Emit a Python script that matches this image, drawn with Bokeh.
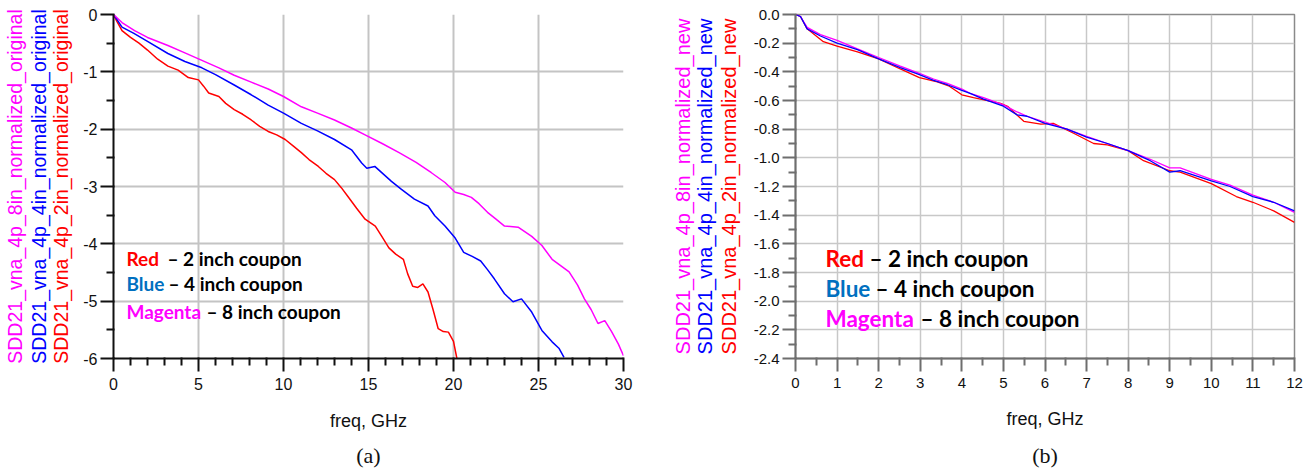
from bokeh.plotting import figure
from bokeh.models import Range1d, FixedTicker, PrintfTickFormatter, Label, LinearAxis
from bokeh.layouts import row
from bokeh.embed import file_html
from bokeh.resources import INLINE

# ---------------- data: panel (a) original ----------------
freq_a_red = [0, 0.2, 0.5, 1.0, 1.5, 2.0, 2.6, 3.2, 3.8, 4.4, 5.0, 5.3, 5.6, 5.9, 6.2, 6.6, 7.1,
              7.6, 8.1, 8.6, 9.1, 9.6, 10.1, 10.6, 11.05, 11.5, 12.05, 12.5, 13.0, 13.4, 13.8,
              14.3, 14.8, 15.4, 15.8, 16.2, 16.6, 17.05, 17.3, 17.6, 17.9, 18.2, 18.5, 18.8,
              19.1, 19.4, 19.7, 20.0, 20.2]
sdd21_a_red = [0, -0.12, -0.28, -0.40, -0.50, -0.62, -0.78, -0.90, -0.97, -1.10, -1.14, -1.25,
               -1.37, -1.40, -1.43, -1.55, -1.66, -1.74, -1.84, -1.95, -2.04, -2.10, -2.18, -2.30,
               -2.41, -2.53, -2.65, -2.77, -2.88, -3.02, -3.18, -3.38, -3.57, -3.69, -3.88, -4.07,
               -4.18, -4.27, -4.52, -4.74, -4.76, -4.70, -4.84, -5.15, -5.48, -5.53, -5.54, -5.70,
               -6.0]

freq_a_blue = [0, 0.5, 1.2, 2.0, 3.2, 4.2, 5.2, 6.0, 7.1, 8.1, 9.1, 10.0, 11.05, 12.0, 13.0, 14.0,
               14.6, 14.9, 15.37, 16.35, 16.94, 17.7, 18.5, 18.9, 19.5, 20.1, 20.6, 21.1, 21.6,
               22.0, 22.4, 23.0, 23.5, 24.0, 24.6, 25.2, 25.8, 26.2, 26.5]
sdd21_a_blue = [0, -0.22, -0.33, -0.47, -0.68, -0.82, -0.93, -1.05, -1.23, -1.40, -1.58, -1.72,
                -1.90, -2.03, -2.18, -2.36, -2.59, -2.68, -2.65, -2.91, -3.05, -3.22, -3.34,
                -3.51, -3.69, -3.90, -4.15, -4.22, -4.30, -4.45, -4.61, -4.87, -5.01, -4.96,
                -5.19, -5.51, -5.71, -5.82, -5.98]

freq_a_mag = [0, 0.5, 1.24, 2.0, 3.2, 4.2, 5.2, 6.2, 7.1, 8.1, 9.1, 10.0, 11.05, 12.0, 13.0, 14.0,
              14.8, 15.8, 16.8, 17.8, 18.7, 19.5, 20.1, 20.6, 21.05, 21.5, 22.0, 22.5, 23.0, 23.8,
              24.6, 25.2, 25.8, 26.3, 26.8, 27.3, 27.7, 28.1, 28.5, 28.9, 29.3, 29.7, 30.0]
sdd21_a_mag = [0, -0.14, -0.28, -0.40, -0.54, -0.67, -0.80, -0.93, -1.06, -1.18, -1.30, -1.43,
               -1.61, -1.72, -1.84, -1.98, -2.10, -2.25, -2.41, -2.58, -2.76, -2.93, -3.10,
               -3.14, -3.19, -3.30, -3.45, -3.57, -3.69, -3.71, -3.87, -4.03, -4.27, -4.38,
               -4.49, -4.72, -4.96, -5.15, -5.39, -5.34, -5.53, -5.75, -5.95]

# ---------------- data: panel (b) new ----------------
freq_b_red = [0, 0.12, 0.28, 0.67, 1.0, 1.49, 2.0, 2.52, 2.98, 3.41, 3.7, 4.0, 4.28, 4.93, 5.1,
              5.49, 5.9, 6.2, 6.7, 7.17, 7.5, 8.0, 8.37, 9.0, 9.25, 10.0, 10.6, 11.0, 11.5, 12.0]
sdd21_b_red = [0, -0.014, -0.10, -0.19, -0.22, -0.26, -0.31, -0.38, -0.44, -0.47, -0.50, -0.56,
               -0.58, -0.62, -0.64, -0.745, -0.765, -0.76, -0.83, -0.90, -0.91, -0.95, -1.02,
               -1.09, -1.10, -1.18, -1.27, -1.31, -1.37, -1.45]

freq_b_blue = [0, 0.12, 0.28, 0.6, 1.0, 1.49, 2.0, 2.52, 2.98, 3.32, 3.65, 4.0, 4.2, 4.52, 5.0,
               5.33, 5.57, 6.0, 6.53, 7.0, 7.5, 8.0, 8.53, 9.0, 9.25, 10.0, 10.45, 11.0, 11.5, 12.0]
sdd21_b_blue = [0, -0.014, -0.10, -0.15, -0.20, -0.245, -0.31, -0.37, -0.42, -0.46, -0.49, -0.53,
                -0.55, -0.59, -0.64, -0.70, -0.71, -0.76, -0.80, -0.855, -0.90, -0.95, -1.02,
                -1.10, -1.09, -1.16, -1.20, -1.27, -1.31, -1.37]

freq_b_mag = [0, 0.12, 0.28, 0.6, 1.0, 1.49, 2.0, 2.52, 2.98, 3.32, 3.65, 4.0, 4.2, 4.52, 5.0,
              5.33, 5.57, 6.0, 6.53, 7.0, 7.5, 8.0, 8.53, 9.0, 9.25, 10.0, 10.45, 11.0, 11.5, 12.0]
sdd21_b_mag = [0, -0.014, -0.09, -0.14, -0.18, -0.24, -0.30, -0.36, -0.41, -0.45, -0.48, -0.52,
               -0.55, -0.58, -0.63, -0.68, -0.71, -0.75, -0.80, -0.85, -0.90, -0.95, -1.01,
               -1.07, -1.07, -1.15, -1.19, -1.26, -1.31, -1.38]

# ---------------- ticks / labels ----------------
x_ticks_a = [0, 5, 10, 15, 20, 25, 30]
x_minor_a = [v for v in range(0, 31) if v % 5 != 0]
x_grid_a = [5, 10, 15, 20, 25]
y_ticks_a = [0, -1, -2, -3, -4, -5, -6]
y_minor_a = [-0.5, -1.5, -2.5, -3.5, -4.5, -5.5]
y_grid_a = [0, -1, -2, -3, -4, -5]

x_ticks_b = [0, 1, 2, 3, 4, 5, 6, 7, 8, 9, 10, 11, 12]
x_minor_b = [0.5, 1.5, 2.5, 3.5, 4.5, 5.5, 6.5, 7.5, 8.5, 9.5, 10.5, 11.5]
y_ticks_b = [0.0, -0.2, -0.4, -0.6, -0.8, -1.0, -1.2, -1.4, -1.6, -1.8, -2.0, -2.2, -2.4]
y_minor_b = [-0.1, -0.3, -0.5, -0.7, -0.9, -1.1, -1.3, -1.5, -1.7, -1.9, -2.1, -2.3]

names_a = ["SDD21_vna_4p_2in_normalized_original",
           "SDD21_vna_4p_4in_normalized_original",
           "SDD21_vna_4p_8in_normalized_original"]
names_b = ["SDD21_vna_4p_2in_normalized_new",
           "SDD21_vna_4p_4in_normalized_new",
           "SDD21_vna_4p_8in_normalized_new"]
legend_words = ["Red", "Blue", "Magenta"]
legend_rest = ["– 2 inch coupon", "– 4 inch coupon", "– 8 inch coupon"]

RED, BLUE, MAG = "#ff0000", "#0000ff", "#ff00ff"
LEG_COLORS = ["#ff0000", "#0070c0", "#ff00ff"]
NAME_COLORS = [RED, BLUE, MAG]
SANS = "Liberation Sans"


def style_axes(p, xt, xm, yt, ym, xfmt, yfmt, axis_color, tick_size, xgrid_ticks, ygrid_ticks,
               grid_color, grid_w):
    xa = p.below[0]
    ya = p.left[0]
    xa.ticker = FixedTicker(ticks=xt, minor_ticks=xm)
    ya.ticker = FixedTicker(ticks=yt, minor_ticks=ym)
    xa.formatter = PrintfTickFormatter(format=xfmt)
    ya.formatter = PrintfTickFormatter(format=yfmt)
    for ax in (xa, ya):
        ax.axis_line_color = axis_color
        ax.axis_line_width = 2
        ax.major_tick_line_color = axis_color
        ax.major_tick_line_width = 2
        ax.minor_tick_line_color = axis_color
        ax.minor_tick_line_width = 2
        ax.major_tick_in = 1
        ax.major_tick_out = 13
        ax.minor_tick_in = 1
        ax.minor_tick_out = 7
        ax.major_label_text_font = SANS
        ax.major_label_text_font_size = tick_size
        ax.major_label_text_color = "#111111"
    xa.major_label_standoff = 6
    ya.major_label_standoff = 3
    xa.axis_label = "freq, GHz"
    xa.axis_label_text_font = SANS
    xa.axis_label_text_font_style = "normal"
    xa.axis_label_text_font_size = "18px"
    xa.axis_label_text_color = "#111111"
    xa.axis_label_standoff = 18
    p.xgrid.ticker = FixedTicker(ticks=xgrid_ticks)
    p.ygrid.ticker = FixedTicker(ticks=ygrid_ticks)
    p.grid.grid_line_color = grid_color
    p.grid.grid_line_width = grid_w


def label_axis(text, color, font, size, standoff):
    return LinearAxis(axis_label=text, axis_label_text_color=color, axis_label_text_font=font,
                      axis_label_text_font_size=size, axis_label_text_font_style="normal",
                      axis_label_standoff=standoff, ticker=FixedTicker(ticks=[]),
                      axis_line_color=None, major_tick_line_color=None,
                      minor_tick_line_color=None, major_tick_in=0, major_tick_out=0,
                      minor_tick_in=0, minor_tick_out=0, major_label_standoff=0,
                      major_label_text_font_size="0px")


def make_panel(width, height, xr, yr, borders):
    l, r, t, b = borders
    p = figure(width=width, height=height, x_range=Range1d(*xr), y_range=Range1d(*yr),
               output_backend="svg", toolbar_location=None, title_location=None,
               min_border_left=l, min_border_right=r, min_border_top=t, min_border_bottom=b)
    p.outline_line_color = None
    return p


# ---------------- panel (a) ----------------
pa = make_panel(653, 472, (0, 30), (-6, 0), (112, 30, 14, 112))
style_axes(pa, x_ticks_a, x_minor_a, y_ticks_a, y_minor_a, "%d", "%d", "#111111", "16px",
           x_grid_a, y_grid_a, "#c4c4c4", 2)
pa.line(freq_a_red, sdd21_a_red, line_color=RED, line_width=1.5)
pa.line(freq_a_blue, sdd21_a_blue, line_color=BLUE, line_width=1.5)
pa.line(freq_a_mag, sdd21_a_mag, line_color=MAG, line_width=1.5)

for name, col, so in zip(names_a, NAME_COLORS, [9, -3, -1]):
    pa.add_layout(label_axis(name, col, SANS, "19.5px", so), "left")
pa.add_layout(label_axis("(a)", "#111111", "Liberation Serif", "22px", 9), "below")

leg_y_a = [-4.25, -4.70, -5.18]
leg_off_a = [41, 42, 80]
for w, rest, c, yy, off in zip(legend_words, legend_rest, LEG_COLORS, leg_y_a, leg_off_a):
    pa.add_layout(Label(x=0.76, y=yy, text=w, text_color=c, text_font="Lato",
                        text_font_style="bold", text_font_size="19px", text_baseline="middle"))
    pa.add_layout(Label(x=0.76, y=yy, x_offset=off, text=rest, text_color="#000000",
                        text_font="Lato", text_font_style="bold", text_font_size="19px",
                        text_baseline="middle"))

# ---------------- panel (b) ----------------
pb = make_panel(653, 472, (0, 12), (-2.4, 0), (142, 12, 13, 114))
style_axes(pb, x_ticks_b, x_minor_b, y_ticks_b, y_minor_b, "%d", "%.1f", "#6e6e6e", "15px",
           x_ticks_b[1:], y_ticks_b[:-1], "#c8c8c8", 1.5)
pb.outline_line_color = "#8a8a8a"
pb.outline_line_width = 1.5
pb.line(freq_b_red, sdd21_b_red, line_color=RED, line_width=1.3)
pb.line(freq_b_mag, sdd21_b_mag, line_color=MAG, line_width=1.3)
pb.line(freq_b_blue, sdd21_b_blue, line_color=BLUE, line_width=1.3)

for name, col, so in zip(names_b, NAME_COLORS, [11, -1, -3]):
    pb.add_layout(label_axis(name, col, SANS, "20px", so), "left")
pb.add_layout(label_axis("(b)", "#111111", "Liberation Serif", "22px", 11), "below")

leg_y_b = [-1.704, -1.913, -2.122]
leg_off_b = [44, 50, 95]
for w, rest, c, yy, off in zip(legend_words, legend_rest, LEG_COLORS, leg_y_b, leg_off_b):
    pb.add_layout(Label(x=0.72, y=yy, text=w, text_color=c, text_font="Lato",
                        text_font_style="bold", text_font_size="22.5px", text_baseline="middle"))
    pb.add_layout(Label(x=0.72, y=yy, x_offset=off, text=rest, text_color="#000000",
                        text_font="Lato", text_font_style="bold", text_font_size="22.5px",
                        text_baseline="middle"))

layout = row(pa, pb, spacing=0)
open("out.html", "w").write(file_html(layout, INLINE))
